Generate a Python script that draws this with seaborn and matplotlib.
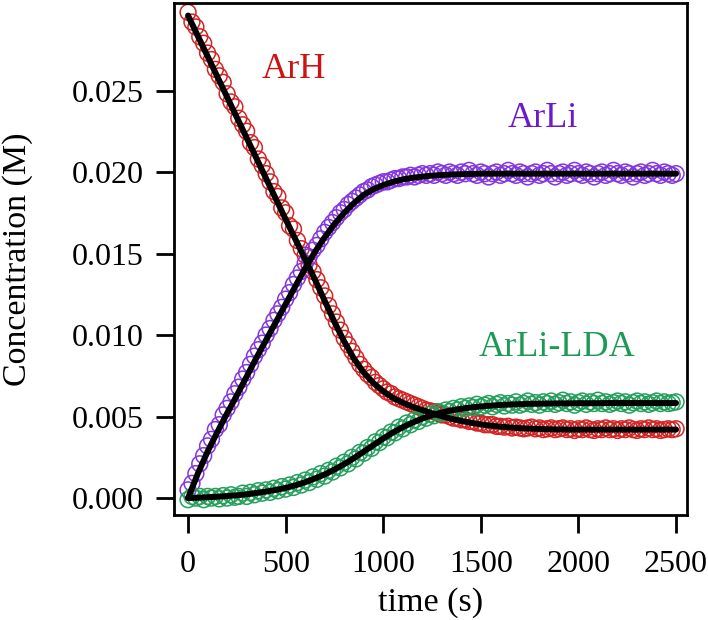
import numpy as np
import pandas as pd
import seaborn as sns
import matplotlib.pyplot as plt

# observed concentrations, mM, sampled every 20 s
time_obs = list(range(0, 2501, 20))
arh_obs = [
    29.8, 29.2, 28.9, 28.3, 27.9, 27.3, 26.9, 26.3, 25.9, 25.5,
    24.8, 24.3, 24.0, 23.3, 22.9, 22.5, 21.8, 21.5, 20.8, 20.4,
    19.9, 19.4, 18.8, 18.5, 17.8, 17.5, 16.7, 16.5, 15.8, 15.3,
    14.9, 14.3, 13.9, 13.4, 12.9, 12.4, 11.8, 11.3, 10.8, 10.3,
    9.8, 9.4, 9.0, 8.6, 8.2, 7.9, 7.6, 7.4, 7.1, 6.9,
    6.7, 6.5, 6.4, 6.2, 6.1, 6.0, 5.9, 5.8, 5.7, 5.6,
    5.5, 5.4, 5.35, 5.3, 5.2, 5.1, 5.1, 5.0, 4.9, 4.9,
    4.8, 4.8, 4.7, 4.7, 4.6, 4.6, 4.5, 4.5, 4.5, 4.4,
    4.4, 4.35, 4.4, 4.3, 4.35, 4.3, 4.25, 4.3, 4.35, 4.25,
    4.3, 4.2, 4.25, 4.3, 4.2, 4.25, 4.3, 4.2, 4.25, 4.15,
    4.25, 4.2, 4.3, 4.2, 4.15, 4.25, 4.2, 4.3, 4.2, 4.25,
    4.15, 4.25, 4.2, 4.3, 4.2, 4.15, 4.25, 4.2, 4.3, 4.2,
    4.25, 4.15, 4.2, 4.25, 4.2, 4.25,
]
arli_obs = [
    0.5, 0.9, 1.5, 2.1, 2.6, 3.2, 3.6, 4.2, 4.5, 5.1,
    5.5, 5.9, 6.4, 6.8, 7.3, 7.7, 8.2, 8.7, 9.1, 9.5,
    10.0, 10.4, 10.9, 11.3, 11.7, 12.2, 12.6, 13.1, 13.5, 13.9,
    14.4, 14.8, 15.2, 15.5, 15.9, 16.3, 16.6, 16.9, 17.2, 17.5,
    17.7, 18.0, 18.2, 18.4, 18.6, 18.8, 18.9, 19.1, 19.2, 19.3,
    19.4, 19.4, 19.5, 19.6, 19.6, 19.7,
    19.7, 19.8, 19.7, 19.8, 19.9, 19.8, 19.9, 19.8, 20.0, 19.9,
    19.8, 20.0, 19.9, 19.8, 20.0, 19.9, 20.1, 19.9, 19.8, 20.0,
    19.9, 19.7, 19.9, 20.0, 19.8, 19.9, 20.1, 19.9, 19.8, 20.0,
    19.9, 19.7, 19.9, 20.0, 19.8, 19.9, 20.1, 19.9, 19.7, 19.9,
    20.0, 19.8, 19.9, 20.1, 19.9, 19.8, 20.0, 19.9, 19.7, 19.9,
    20.0, 19.8, 19.9, 20.1, 19.9, 19.8, 20.0, 19.9, 19.7, 19.9,
    20.0, 19.8, 19.9, 20.1, 19.9, 19.8, 20.0, 19.9, 19.8, 19.9,
]
lda_obs = [
    -0.1, 0.1, 0.0, 0.1, -0.1, 0.1, 0.0, 0.1, -0.05, 0.15,
    0.0, 0.2, 0.05, 0.1, 0.3, 0.1, 0.35, 0.2, 0.45, 0.3,
    0.5, 0.35, 0.6, 0.45, 0.7, 0.55, 0.8, 0.65, 0.95, 0.8,
    1.1, 0.95, 1.3, 1.15, 1.5, 1.35, 1.7, 1.6, 1.95, 1.85,
    2.2, 2.1, 2.5, 2.4, 2.8, 2.75, 3.1, 3.05, 3.45, 3.4,
    3.75, 3.7, 4.05, 4.0, 4.35, 4.25, 4.6, 4.5, 4.8, 4.7,
    5.0, 4.9, 5.15, 5.05, 5.3, 5.2, 5.4, 5.3, 5.5, 5.4,
    5.6,
    5.5, 5.65, 5.55, 5.75, 5.6, 5.7, 5.8, 5.6, 5.75, 5.85,
    5.65, 5.8, 5.7, 5.9, 5.7, 5.8, 5.95, 5.75, 5.85, 5.7,
    5.9, 5.8, 5.95, 5.75, 5.85, 6.0, 5.8, 5.9, 5.7, 5.85,
    5.95, 5.75, 5.9, 5.8, 6.0, 5.8, 5.9, 5.75, 5.85, 5.95,
    5.8, 5.9, 5.7, 5.85, 5.95, 5.8, 5.9, 5.75, 5.85, 5.95,
    5.8, 5.9, 5.8, 5.85, 5.9,
]

# kinetic fits, mM, every 50 s
time_fit = list(range(0, 2501, 50))
arh_fit = [
    29.6, 28.35, 27.1, 25.85, 24.6, 23.35, 22.1, 20.85, 19.6, 18.35,
    17.1, 15.87, 14.65, 13.4, 12.1, 10.8, 9.6, 8.55, 7.7, 7.05,
    6.55, 6.15, 5.85, 5.6, 5.4, 5.2, 5.02, 4.86, 4.73, 4.62,
    4.52, 4.44, 4.38, 4.33, 4.29, 4.26, 4.24, 4.22, 4.21, 4.2,
    4.2, 4.2, 4.2, 4.2, 4.2, 4.2, 4.2, 4.2, 4.2, 4.2, 4.2,
]
arli_fit = [
    0.0, 1.5, 2.85, 4.05, 5.2, 6.3, 7.45, 8.6, 9.7, 10.8,
    11.9, 13.0, 14.1, 15.1, 16.0, 16.8, 17.5, 18.1, 18.6, 18.95,
    19.2, 19.4, 19.55, 19.65, 19.72, 19.78, 19.82, 19.85, 19.87, 19.88,
    19.9, 19.9, 19.9, 19.9, 19.9, 19.9, 19.9, 19.9, 19.9, 19.9,
    19.9, 19.9, 19.9, 19.9, 19.9, 19.9, 19.9, 19.9, 19.9, 19.9, 19.9,
]
lda_fit = [
    0.0, 0.02, 0.05, 0.08, 0.12, 0.17, 0.23, 0.31, 0.4, 0.5,
    0.62, 0.78, 0.97, 1.2, 1.45, 1.75, 2.08, 2.45, 2.85, 3.25,
    3.65, 4.02, 4.35, 4.63, 4.88, 5.08, 5.25, 5.38, 5.48, 5.56,
    5.62, 5.67, 5.71, 5.74, 5.76, 5.78, 5.79, 5.8, 5.81, 5.81,
    5.82, 5.82, 5.82, 5.83, 5.83, 5.83, 5.83, 5.83, 5.83, 5.83, 5.83,
]

species = ["ArH", "ArLi", "ArLi-LDA"]
marker_colors = ["#d42424", "#8436e0", "#24a05c"]
text_colors = ["#cc1414", "#6c1ad0", "#1c9a55"]
label_pos = [(540, 0.02626), (1819, 0.02328), (1888, 0.00926)]

obs = pd.DataFrame({"time": time_obs, "ArH": arh_obs, "ArLi": arli_obs, "ArLi-LDA": lda_obs})
fit = pd.DataFrame({"time": time_fit, "ArH": arh_fit, "ArLi": arli_fit, "ArLi-LDA": lda_fit})
for name in species:
    obs[name] = obs[name] / 1000.0
    fit[name] = fit[name] / 1000.0

sns.set_theme(style="ticks", rc={
    "axes.edgecolor": "black", "axes.linewidth": 2.0,
    "xtick.color": "black", "ytick.color": "black",
    "xtick.major.size": 13, "ytick.major.size": 13,
    "xtick.major.width": 2.0, "ytick.major.width": 2.0,
    "xtick.major.pad": 12, "ytick.major.pad": 9,
    "text.color": "black", "axes.labelcolor": "black",
})
plt.rcParams["font.family"] = ["Liberation Serif", "DejaVu Serif"]

fig = plt.figure(figsize=(7.08, 6.2), dpi=100)
ax = fig.add_axes([174 / 708, 1 - 515 / 620, (687 - 174) / 708, (515 - 3) / 620])

for name, col in zip(species, marker_colors):
    sns.scatterplot(x="time", y=name, data=obs, ax=ax, color=col, facecolors="none",
                    edgecolor=col, s=130, linewidth=1.1, zorder=2)
for name in species:
    sns.lineplot(x="time", y=name, data=fit, ax=ax, color="black", lw=4.3, zorder=3)

for name, col, (tx, ty) in zip(species, text_colors, label_pos):
    ax.text(tx, ty, name, color=col, fontsize=26, ha="center", va="center")

ax.set_xlim(-72, 2556)
ax.set_ylim(-0.00104, 0.03037)
ax.set_xticks([0, 500, 1000, 1500, 2000, 2500])
ax.set_yticks([0.0, 0.005, 0.010, 0.015, 0.020, 0.025])
ax.set_yticklabels(["%.3f" % v for v in ax.get_yticks()])
ax.tick_params(labelsize=23, direction="out")
ax.set_xlabel("time (s)", fontsize=24.5, va="center")
ax.set_ylabel("Concentration (M)", fontsize=24.5, va="center")
ax.xaxis.set_label_coords(0.5, -0.172)
ax.yaxis.set_label_coords(-0.305, 0.5)
for s in ax.spines.values():
    s.set_visible(True)

fig.savefig("out.png", dpi=100)
